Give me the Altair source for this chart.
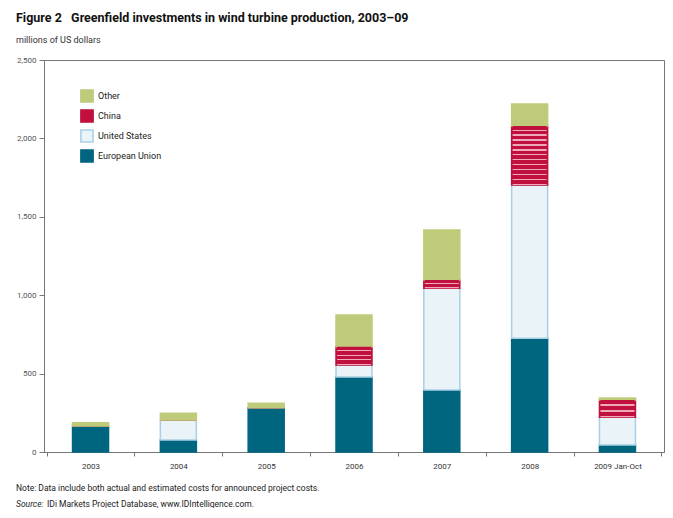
import altair as alt
import pandas as pd

years = ["2003", "2004", "2005", "2006", "2007", "2008", "2009 Jan-Oct"]
series = ["European Union", "United States", "China", "Other"]
eu = [166, 76, 283, 478, 395, 725, 45]
us = [0, 128, 0, 77, 649, 978, 176]
china = [0, 0, 0, 117, 53, 376, 111]
other = [21, 43, 28, 202, 319, 140, 12]

legend_order = ["Other", "China", "United States", "European Union"]
fills = ["#BFCB7A", "#C0113E", "#EAF3F8", "#006680"]
strokes = ["#BFCB7A", "#C0113E", "#A9CFE4", "#006680"]

rows = []
for s_i, (name, vals) in enumerate(zip(series, [eu, us, china, other])):
    for y, v in zip(years, vals):
        rows.append({"year": y, "series": name, "value": v, "ord": s_i})
df = pd.DataFrame(rows)

FONT = "Roboto"
W, H = 620, 392
px_per_unit = H / 2500.0


def stripes(value, period=5.0):
    n = max(1, int(round(value * px_per_unit / period)))
    stops = []
    for i in range(n):
        a = i / n
        b = (i + 0.72) / n
        c = (i + 1) / n
        stops += [
            alt.GradientStop(color="#C0113E", offset=a),
            alt.GradientStop(color="#C0113E", offset=b),
            alt.GradientStop(color="#EFA9BA", offset=b),
            alt.GradientStop(color="#EFA9BA", offset=c),
        ]
    return alt.Gradient(gradient="linear", x1=0, x2=0, y1=0, y2=1, stops=stops)


x_enc = alt.X(
    "year:N",
    sort=years,
    scale=alt.Scale(paddingInner=0, paddingOuter=0.03),
    axis=alt.Axis(
        title=None,
        labelAngle=0,
        tickBand="extent",
        labelFont=FONT,
        labelFontSize=8,
        labelColor="#333333",
        labelPadding=6,
        tickColor="#777777",
        tickSize=4,
        domainColor="#777777",
    ),
)
y_enc = alt.Y(
    "v1:Q",
    scale=alt.Scale(domain=[0, 2500], nice=False),
    axis=alt.Axis(
        title=None,
        values=[0, 500, 1000, 1500, 2000, 2500],
        format=",.0f",
        labelFont=FONT,
        labelFontSize=8,
        labelColor="#555555",
        labelPadding=3,
        tickColor="#777777",
        tickSize=5,
        domainColor="#777777",
        grid=False,
    ),
)

base = alt.Chart(df).transform_stack(
    stack="value", groupby=["year"], as_=["v0", "v1"], sort=[alt.SortField("ord")]
)

bars = base.mark_bar(size=36, strokeWidth=1.5).encode(
    x=x_enc,
    y=y_enc,
    y2="v0:Q",
    fill=alt.Fill(
        "series:N",
        scale=alt.Scale(domain=legend_order, range=fills),
        legend=alt.Legend(title=None),
    ),
    stroke=alt.Stroke(
        "series:N",
        scale=alt.Scale(domain=legend_order, range=strokes),
        legend=alt.Legend(title=None),
    ),
)

layers = [bars]
for y, v in zip(years, china):
    if v > 0:
        layers.append(
            base.transform_filter(
                (alt.datum.series == "China") & (alt.datum.year == y)
            )
            .mark_bar(size=34, fill=stripes(v), stroke=None)
            .encode(x=alt.X("year:N", sort=years), y="v1:Q", y2="v0:Q")
        )

note_df = pd.DataFrame(
    {
        "t": [
            "Note: Data include both actual and estimated costs for announced project costs.",
        ]
    }
)
notes = alt.Chart(note_df).mark_text(
    align="left", baseline="middle", font=FONT, fontSize=8.5, color="#222222"
).encode(x=alt.value(-28), y=alt.value(H + 36), text="t:N")

src1 = alt.Chart(pd.DataFrame({"t": ["Source:"]})).mark_text(
    align="left", baseline="middle", font=FONT, fontSize=8.5, fontStyle="italic", color="#222222"
).encode(x=alt.value(-28), y=alt.value(H + 52), text="t:N")
src2 = alt.Chart(pd.DataFrame({"t": ["IDi Markets Project Database, www.IDIntelligence.com."]})).mark_text(
    align="left", baseline="middle", font=FONT, fontSize=8.5, color="#222222"
).encode(x=alt.value(3), y=alt.value(H + 52), text="t:N")

chart = (
    alt.layer(*layers, notes, src1, src2)
    .resolve_scale(x="shared")
    .properties(
        width=W,
        height=H,
        autosize=alt.AutoSizeParams(type="none"),
        padding={"left": 36, "top": 52, "right": 1, "bottom": 56},
        title=alt.TitleParams(
            text="Figure 2\u00a0\u00a0\u00a0Greenfield investments in wind turbine production, 2003–09",
            subtitle="millions of US dollars",
            anchor="start",
            frame="group",
            dx=-28,
            font=FONT,
            fontSize=12.5,
            fontWeight="bold",
            color="#111111",
            subtitleFont=FONT,
            subtitleFontSize=9,
            subtitleColor="#333333",
            subtitlePadding=12,
            offset=11,
        ),
    )
    .configure_view(stroke="#777777", strokeWidth=1)
    .configure_legend(
        orient="none",
        legendX=36,
        legendY=29,
        symbolType="square",
        symbolSize=150,
        symbolStrokeWidth=1.5,
        symbolOpacity=1,
        labelFont=FONT,
        labelFontSize=9,
        labelColor="#222222",
        rowPadding=0,
    )
)

chart.save("out.html", embed_options={"renderer": "svg", "actions": False})
